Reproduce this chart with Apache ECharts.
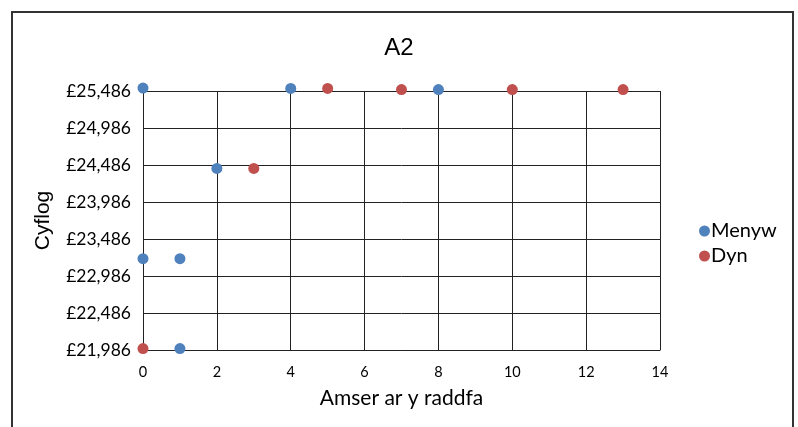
<!DOCTYPE html>
<html>
<head>
<meta charset="utf-8">
<script src="https://cdn.jsdelivr.net/npm/echarts@6/dist/echarts.min.js"></script>
<style>
  html, body { margin: 0; padding: 0; background: #fff; }
  #chart { width: 798px; height: 427px; }
</style>
</head>
<body>
<div id="chart"></div>
<script>
// Salary against time on the pay scale, by gender
const seriesNames = ['Menyw', 'Dyn'];
const menywYears = [0, 4, 8, 2, 0, 1, 1];
const menywPay = [25525, 25520, 25505, 24440, 23220, 23220, 22005];
const dynYears = [5, 7, 10, 13, 3, 0];
const dynPay = [25520, 25505, 25505, 25505, 24440, 22005];
const yTicks = [21986, 22486, 22986, 23486, 23986, 24486, 24986, 25486];
const xTicks = [0, 2, 4, 6, 8, 10, 12, 14];

const colours = ['#4F81BD', '#C0504D'];
const labelFont = 'Lato, "Open Sans", sans-serif';
const headFont = '"Liberation Sans", Arial, sans-serif';

function pounds(v) {
  return '£' + String(Math.round(v)).replace(/\B(?=(\d{3})+(?!\d))/g, ',');
}

const chart = echarts.init(document.getElementById('chart'), null, { renderer: 'canvas' });

chart.setOption({
  animation: false,
  backgroundColor: '#fff',
  color: colours,
  title: {
    text: 'A2',
    left: 'center',
    top: 31,
    textStyle: { fontFamily: headFont, fontSize: 24, fontWeight: 'normal', color: '#000' }
  },
  graphic: [{
    type: 'rect',
    shape: { x: 12, y: 12, width: 781, height: 430 },
    style: { fill: null, stroke: '#333', lineWidth: 2 },
    silent: true
  }],
  legend: {
    orient: 'vertical',
    left: 694,
    top: 216,
    itemWidth: 11,
    itemHeight: 11,
    itemGap: 5,
    icon: 'circle',
    data: seriesNames,
    textStyle: { fontFamily: labelFont, fontSize: 20, lineHeight: 20, color: '#000', padding: [0, 0, 0, -4] }
  },
  grid: { left: 143, right: 138, top: 91, bottom: 77, containLabel: false },
  xAxis: {
    type: 'value',
    min: xTicks[0],
    max: xTicks[xTicks.length - 1],
    interval: xTicks[1] - xTicks[0],
    name: 'Amser ar y raddfa',
    nameLocation: 'middle',
    nameGap: 38,
    nameTextStyle: { fontFamily: labelFont, fontSize: 21, color: '#000' },
    axisLine: { show: true, lineStyle: { color: '#222', width: 1 } },
    axisTick: { show: false },
    axisLabel: { margin: 15, fontFamily: labelFont, fontSize: 14.5, color: '#000' },
    splitLine: { show: true, lineStyle: { color: '#222', width: 1 } }
  },
  yAxis: {
    type: 'value',
    min: yTicks[0],
    max: yTicks[yTicks.length - 1],
    interval: yTicks[1] - yTicks[0],
    name: 'Cyflog',
    nameLocation: 'middle',
    nameGap: 89,
    nameRotate: 90,
    nameTextStyle: { fontFamily: headFont, fontSize: 21, color: '#000' },
    axisLine: { show: true, lineStyle: { color: '#222', width: 1 } },
    axisTick: { show: false },
    axisLabel: { margin: 12, fontFamily: labelFont, fontSize: 17.5, color: '#000', formatter: pounds },
    splitLine: { show: true, lineStyle: { color: '#222', width: 1 } }
  },
  series: [
    {
      name: seriesNames[0],
      type: 'scatter',
      symbolSize: 11,
      clip: false,
      itemStyle: { color: colours[0], opacity: 1 },
      data: menywYears.map((x, i) => [x, menywPay[i]])
    },
    {
      name: seriesNames[1],
      type: 'scatter',
      symbolSize: 11,
      clip: false,
      itemStyle: { color: colours[1], opacity: 1 },
      data: dynYears.map((x, i) => [x, dynPay[i]])
    }
  ]
});
</script>
</body>
</html>
